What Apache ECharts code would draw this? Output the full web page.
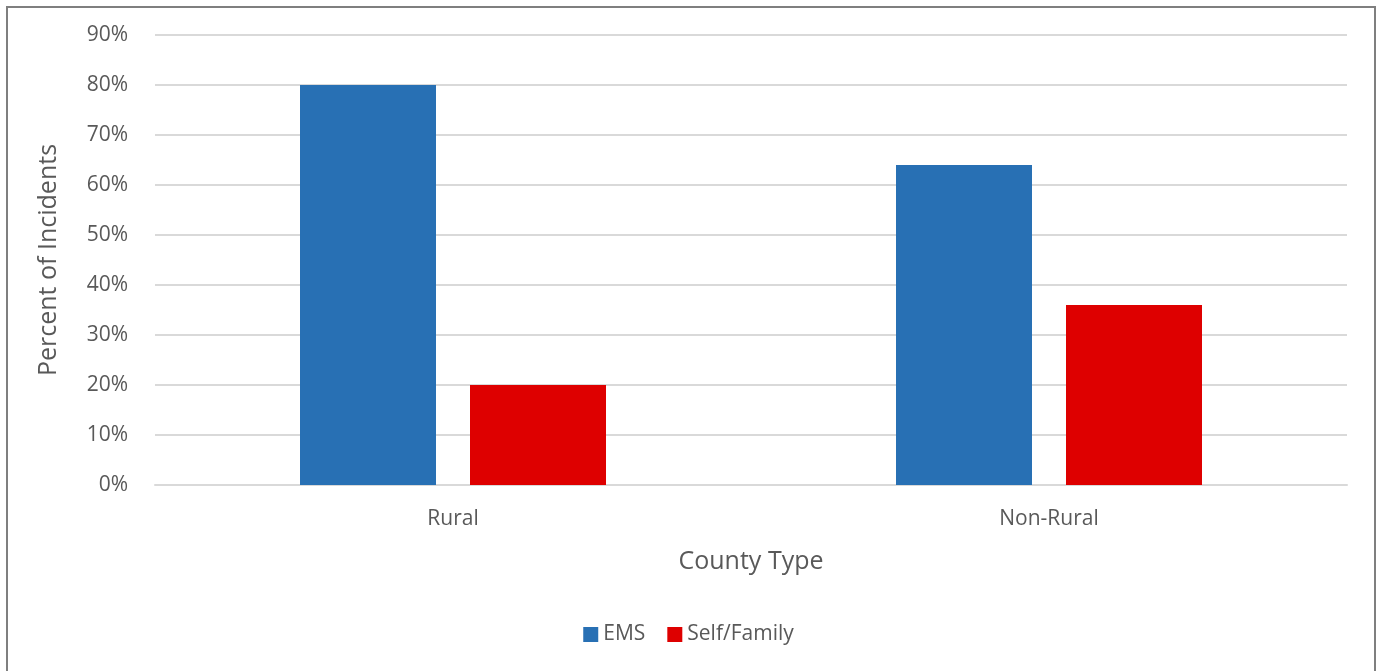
<!DOCTYPE html>
<html>
<head>
<meta charset="utf-8">
<script src="https://cdn.jsdelivr.net/npm/echarts@6/dist/echarts.min.js"></script>
<style>
  html, body { margin: 0; padding: 0; background: #fff; }
  #chart { width: 1377px; height: 671px; }
</style>
</head>
<body>
<div id="chart"></div>
<script>
const categories = ['Rural', 'Non-Rural'];
const emsValues = [80, 64];
const selfFamilyValues = [20, 36];
const seriesNames = ['EMS', 'Self/Family'];

const chart = echarts.init(document.getElementById('chart'));
const font = '"Open Sans", "Noto Sans", sans-serif';
const textColor = '#595959';

chart.setOption({
  animation: false,
  textStyle: { fontFamily: font },
  graphic: [{
    type: 'rect',
    shape: { x: 7, y: 7, width: 1368, height: 700 },
    style: { fill: 'none', stroke: '#7f7f7f', lineWidth: 2 },
    silent: true
  }],
  grid: { left: 155, right: 30, top: 35, bottom: 186 },
  legend: {
    bottom: 21,
    left: 'center',
    itemWidth: 15,
    itemHeight: 15,
    itemGap: 22,
    icon: 'rect',
    textStyle: { color: textColor, fontSize: 21, fontFamily: font },
    data: seriesNames
  },
  xAxis: {
    type: 'category',
    data: categories,
    name: 'County Type',
    nameLocation: 'middle',
    nameGap: 64,
    nameTextStyle: { color: textColor, fontSize: 25, fontFamily: font },
    axisLine: { lineStyle: { color: '#d9d9d9', width: 2 } },
    axisTick: { show: false },
    axisLabel: { color: textColor, fontSize: 21, margin: 24, fontFamily: font }
  },
  yAxis: {
    type: 'value',
    min: 0,
    max: 90,
    interval: 10,
    name: 'Percent of Incidents',
    nameLocation: 'middle',
    nameGap: 94,
    nameTextStyle: { color: textColor, fontSize: 25, fontFamily: font },
    axisLine: { show: false },
    axisTick: { show: false },
    splitLine: { lineStyle: { color: '#d9d9d9', width: 2 } },
    axisLabel: { color: textColor, fontSize: 21, margin: 27, formatter: '{value}%', fontFamily: font }
  },
  series: [
    {
      name: seriesNames[0],
      type: 'bar',
      data: emsValues,
      barWidth: 136,
      barGap: '25%',
      itemStyle: { color: '#2870b4' }
    },
    {
      name: seriesNames[1],
      type: 'bar',
      data: selfFamilyValues,
      barWidth: 136,
      itemStyle: { color: '#de0000' }
    }
  ]
});
</script>
</body>
</html>
